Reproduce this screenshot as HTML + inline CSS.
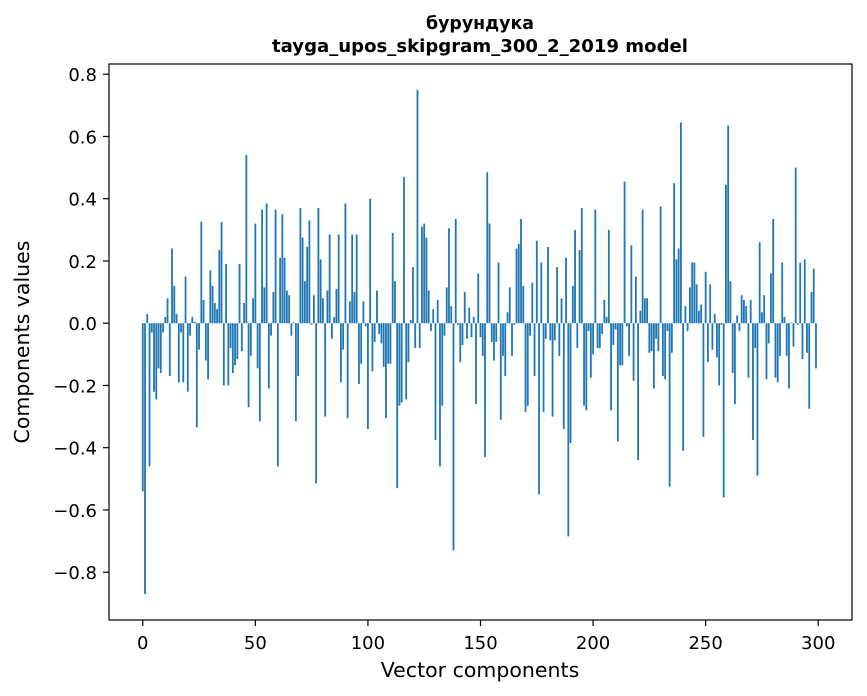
<!DOCTYPE html>
<html><head><meta charset="utf-8"><style>
html,body{margin:0;padding:0;background:#fff;}
svg{display:block;font-family:"DejaVu Sans","Liberation Sans",sans-serif;}
</style></head><body>
<svg id="chart" width="867" height="696" viewBox="0 0 867 696">
<text x="480" y="29" text-anchor="middle" font-size="18" font-weight="bold" textLength="108" lengthAdjust="spacingAndGlyphs">бурундука</text>
<text x="480" y="52" text-anchor="middle" font-size="18" font-weight="bold" textLength="416" lengthAdjust="spacingAndGlyphs">tayga_upos_skipgram_300_2_2019 model</text>
<g id="bars"></g>
<rect x="109" y="64" width="743" height="556" fill="none" stroke="#000" stroke-width="1.2"/>
<g id="xticks"></g>
<g id="yticks"></g>
<text x="480" y="677" text-anchor="middle" font-size="20.5">Vector components</text>
<text transform="translate(29,342) rotate(-90)" text-anchor="middle" font-size="20.5">Components values</text>
</svg>
<script>
const values = [
-0.54,-0.87,0.03,-0.46,-0.03,-0.22,-0.245,-0.145,-0.16,-0.03,
0.02,0.08,-0.17,0.24,0.12,0.03,-0.19,-0.03,-0.19,0.15,
-0.22,-0.04,0.02,0.005,-0.335,-0.085,0.326,0.075,-0.12,-0.18,
0.17,0.12,0.065,0.045,0.235,0.325,-0.2,0.19,-0.2,-0.08,
-0.16,-0.135,-0.115,0.19,-0.09,0.065,0.54,-0.27,-0.105,0.08,
0.32,-0.145,-0.315,0.365,0.115,0.385,-0.21,-0.04,0.1,0.365,
-0.46,0.21,0.35,0.21,0.105,0.09,-0.04,0.003,-0.315,-0.17,
0.37,0.275,0.135,0.245,0.33,-0.005,0.09,-0.515,0.37,0.205,
0.08,-0.3,0.105,0.285,-0.05,0.02,0.11,0.285,-0.19,-0.085,
0.385,-0.305,0.07,0.285,0.1,0.285,-0.195,-0.13,0.07,-0.01,
-0.34,0.4,-0.155,-0.06,0.105,-0.035,-0.065,-0.14,-0.305,-0.13,
-0.13,0.29,0.135,-0.53,-0.265,-0.255,0.47,-0.245,-0.125,0.01,
0.18,-0.08,0.75,-0.08,0.31,0.32,0.275,0.105,-0.025,0.045,
-0.375,0.075,-0.46,-0.265,-0.04,0.115,0.305,0.055,-0.73,0.335,
-0.005,-0.125,-0.07,0.1,-0.05,0.05,-0.045,0.02,-0.26,0.16,
-0.045,-0.105,-0.43,0.485,0.32,-0.06,-0.12,-0.06,0.195,-0.31,
-0.105,-0.17,0.035,0.115,-0.105,-0.005,0.24,0.255,0.335,0.12,
-0.285,-0.265,-0.04,0.13,-0.17,0.265,-0.55,0.195,-0.285,-0.05,
0.245,-0.055,-0.3,-0.055,0.18,-0.105,0.08,-0.34,0.21,-0.685,
-0.385,0.12,0.3,-0.08,0.235,0.37,-0.265,-0.28,-0.025,-0.175,
-0.1,0.365,-0.08,-0.08,-0.035,0.075,0.02,0.3,-0.28,-0.07,
-0.02,-0.38,-0.135,-0.135,0.455,-0.01,-0.105,0.25,-0.185,0.15,
-0.44,0.04,0.365,0.08,0.08,-0.095,-0.09,-0.21,-0.05,-0.09,
0.375,-0.17,-0.18,-0.025,-0.525,-0.095,0.45,0.205,0.24,0.645,
-0.41,0.055,-0.025,0.115,0.195,0.195,0.125,0.04,0.06,-0.365,
0.165,-0.125,0.125,-0.085,0.03,-0.11,-0.2,-0.005,-0.56,0.445,
0.635,0.135,-0.16,-0.26,0.025,-0.025,0.09,0.075,0.055,-0.175,
0.075,-0.375,-0.08,-0.49,0.26,0.035,0.09,-0.18,-0.065,0.16,
0.335,-0.175,-0.19,-0.105,0.195,0.02,-0.105,-0.21,0.002,-0.075,
0.5,-0.005,0.195,-0.115,0.205,-0.095,-0.275,0.1,0.175,-0.145
];
const xTickValues = [0,50,100,150,200,250,300];
const yTickValues = [-0.8,-0.6,-0.4,-0.2,0.0,0.2,0.4,0.6,0.8];
const yTickLabels = ["\u22120.8","\u22120.6","\u22120.4","\u22120.2","0.0","0.2","0.4","0.6","0.8"];

const NS = "http://www.w3.org/2000/svg";
const L = 109, R = 852, T = 64, B = 620;
const xMin = -15, xMax = 315, yMin = -0.9536, yMax = 0.8328;
function xs(v){ return L + (v - xMin) * (R - L) / (xMax - xMin); }
function ys(v){ return B - (v - yMin) * (B - T) / (yMax - yMin); }

const barsG = document.getElementById('bars');
const bw = 0.8 * (R - L) / (xMax - xMin);
values.forEach((v, i) => {
  const r = document.createElementNS(NS, 'rect');
  const y0 = ys(0), y1 = ys(v);
  r.setAttribute('x', xs(i) - bw / 2);
  r.setAttribute('y', Math.min(y0, y1));
  r.setAttribute('width', bw);
  r.setAttribute('height', Math.max(Math.abs(y1 - y0), 0.3));
  r.setAttribute('fill', '#1f77b4');
  
  
  barsG.appendChild(r);
});

const xg = document.getElementById('xticks');
xTickValues.forEach(t => {
  const x = xs(t);
  const ln = document.createElementNS(NS, 'line');
  ln.setAttribute('x1', x); ln.setAttribute('x2', x);
  ln.setAttribute('y1', B); ln.setAttribute('y2', B + 6);
  ln.setAttribute('stroke', '#000');
  ln.setAttribute('stroke-width', '1.2');
  
  
  xg.appendChild(ln);
  const tx = document.createElementNS(NS, 'text');
  tx.setAttribute('x', x); tx.setAttribute('y', B + 29);
  tx.setAttribute('text-anchor', 'middle');
  tx.setAttribute('font-size', '18');
  tx.textContent = String(t);
  
  
  xg.appendChild(tx);
});

const yg = document.getElementById('yticks');
yTickValues.forEach((t, k) => {
  const y = ys(t);
  const ln = document.createElementNS(NS, 'line');
  ln.setAttribute('x1', L - 6); ln.setAttribute('x2', L);
  ln.setAttribute('y1', y); ln.setAttribute('y2', y);
  ln.setAttribute('stroke', '#000');
  ln.setAttribute('stroke-width', '1.2');
  
  
  yg.appendChild(ln);
  const tx = document.createElementNS(NS, 'text');
  tx.setAttribute('x', L - 12); tx.setAttribute('y', y + 7);
  tx.setAttribute('text-anchor', 'end');
  tx.setAttribute('font-size', '18');
  tx.textContent = yTickLabels[k];
  
  
  yg.appendChild(tx);
});
</script>
</body></html>
